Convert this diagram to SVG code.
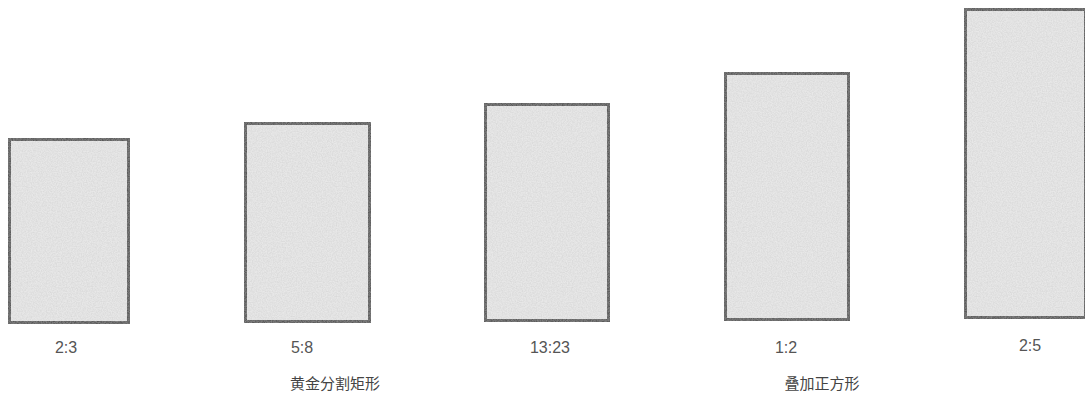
<svg xmlns="http://www.w3.org/2000/svg" width="1085" height="397" viewBox="0 0 1085 397">
<defs>
<filter id="grain" x="0" y="0" width="100%" height="100%">
<feTurbulence type="fractalNoise" baseFrequency="0.8" numOctaves="2" seed="3" result="n"/>
<feColorMatrix in="n" type="matrix" values="0 0 0 0 0.5  0 0 0 0 0.5  0 0 0 0 0.5  0 0 0 0.6 -0.15" result="g"/>
<feComposite in="g" in2="SourceGraphic" operator="in" result="gc"/>
<feMerge><feMergeNode in="SourceGraphic"/><feMergeNode in="gc"/></feMerge>
</filter>
</defs>
<style>
.box{fill:#e8e8e8;stroke:#5a5a5a;stroke-width:5}
.lbl{font-family:"Liberation Sans",Arial,sans-serif;font-size:16px;fill:#555;text-anchor:middle}
.cap{font-family:"Noto Sans CJK SC","Liberation Sans",sans-serif;font-size:15px;fill:#444;text-anchor:middle}
</style>
<rect width="1085" height="397" fill="#ffffff"/>
<g id="r23"><rect class="box" filter="url(#grain)" x="8.5" y="138.5" width="121" height="185"/><text class="lbl" x="66" y="353">2:3</text></g>
<g id="r58"><rect class="box" filter="url(#grain)" x="244.5" y="122.5" width="126" height="200"/><text class="lbl" x="302" y="353">5:8</text></g>
<g id="r1323"><rect class="box" filter="url(#grain)" x="484.5" y="103.5" width="125" height="218"/><text class="lbl" x="550" y="353">13:23</text></g>
<g id="r12"><rect class="box" filter="url(#grain)" x="724.5" y="72.5" width="125" height="248"/><text class="lbl" x="786" y="353">1:2</text></g>
<g id="r25"><rect class="box" filter="url(#grain)" x="964.5" y="8.5" width="122" height="310"/><text class="lbl" x="1030" y="351">2:5</text></g>
<g id="caption-golden"><text class="cap" x="335" y="389">黄金分割矩形</text></g>
<g id="caption-square"><text class="cap" x="822" y="389">叠加正方形</text></g>
<g id="connectors"></g>
</svg>
